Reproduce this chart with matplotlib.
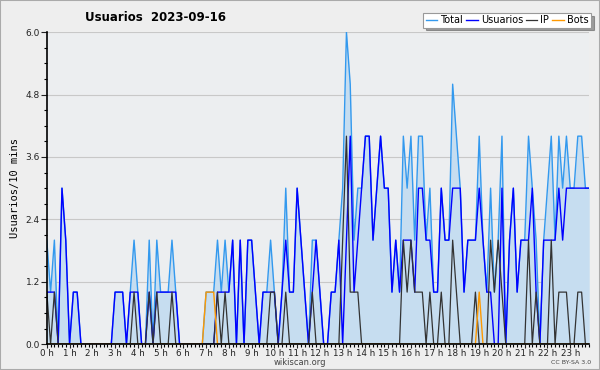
import numpy as np
import matplotlib

matplotlib.use("Agg")
import matplotlib.pyplot as plt
from matplotlib.patches import Rectangle
from matplotlib.ticker import MultipleLocator

# 10-minute slots, 144 per day
usuarios = [
    1, 1, 1, 0, 3, 2,  0, 1, 1, 0, 0, 0,  0, 0, 0, 0, 0, 0,
    1, 1, 1, 0, 1, 1,  1, 0, 0, 1, 0, 1,  1, 1, 1, 1, 1, 0,
    0, 0, 0, 0, 0, 0,  0, 0, 0, 1, 1, 1,  1, 2, 0, 2, 0, 2,
    2, 1, 0, 1, 1, 1,  1, 0, 1, 2, 1, 1,  3, 2, 1, 0, 1, 2,
    1, 0, 0, 1, 1, 2,  0, 2, 4, 1, 2, 3,  4, 4, 2, 3, 4, 3,
    3, 1, 2, 1, 2, 2,  2, 1, 3, 3, 2, 2,  1, 1, 3, 2, 2, 3,
    3, 3, 1, 2, 2, 2,  3, 2, 1, 1, 0, 0,  3, 0, 2, 3, 1, 2,
    2, 2, 3, 1, 0, 2,  2, 2, 2, 3, 2, 3,  3, 3, 3, 3, 3, 3,
]
ip = [
    1, 0, 1, 0, 0, 0,  0, 0, 0, 0, 0, 0,  0, 0, 0, 0, 0, 0,
    0, 0, 0, 0, 0, 1,  0, 0, 0, 1, 0, 1,  0, 0, 0, 1, 0, 0,
    0, 0, 0, 0, 0, 0,  0, 0, 0, 1, 0, 1,  0, 0, 0, 0, 0, 0,
    0, 0, 0, 0, 0, 1,  1, 0, 0, 1, 0, 0,  0, 0, 0, 0, 1, 0,
    0, 0, 0, 0, 0, 0,  2, 4, 1, 1, 1, 0,  0, 0, 0, 0, 0, 0,
    0, 0, 0, 0, 2, 1,  2, 1, 1, 1, 0, 1,  0, 0, 1, 0, 0, 2,
    1, 0, 0, 0, 0, 1,  0, 0, 0, 2, 1, 2,  1, 0, 0, 0, 0, 0,
    0, 2, 0, 1, 0, 0,  0, 2, 0, 1, 1, 1,  0, 0, 1, 1, 0, 0,
]
bots = [0] * 144
for k in (42, 43, 44, 114):
    bots[k] = 1
total = [
    2, 1, 2, 0, 3, 2,  0, 1, 1, 0, 0, 0,  0, 0, 0, 0, 0, 0,
    1, 1, 1, 0, 1, 2,  1, 0, 0, 2, 0, 2,  1, 1, 1, 2, 1, 0,
    0, 0, 0, 0, 0, 0,  1, 1, 1, 2, 1, 2,  1, 2, 0, 2, 0, 2,
    2, 1, 0, 1, 1, 2,  1, 0, 1, 3, 1, 1,  3, 2, 1, 0, 2, 2,
    1, 0, 0, 1, 1, 2,  3, 6, 5, 2, 3, 3,  4, 4, 2, 3, 4, 3,
    3, 1, 2, 1, 4, 3,  4, 2, 4, 4, 2, 3,  1, 1, 3, 2, 2, 5,
    4, 3, 1, 2, 2, 2,  4, 2, 1, 3, 1, 2,  4, 0, 2, 3, 1, 2,
    2, 4, 3, 2, 0, 2,  3, 4, 2, 4, 3, 4,  3, 3, 4, 4, 3, 3,
]
hours = [f"{h} h" for h in range(24)]


def main():
    x = np.arange(len(total))

    fig = plt.figure(figsize=(6.0, 3.7), dpi=100, facecolor="#eeeeee")
    fig.patches.append(
        Rectangle((0, 0), 1, 1, transform=fig.transFigure, fill=False,
                  edgecolor="#aaaaaa", linewidth=1.5)
    )
    ax = fig.add_axes([0.078, 0.07, 0.904, 0.843])
    ax.set_facecolor("#eceef0")

    ax.fill_between(x, total, color="#c6ddf0", linewidth=0)
    ax.plot(x, total, color="#3399ee", linewidth=1, label="Total")
    ax.plot(x, usuarios, color="#0000ff", linewidth=1, label="Usuarios")
    ax.plot(x, ip, color="#333333", linewidth=0.9, label="IP")
    ax.plot(x, bots, color="#ff9900", linewidth=1, label="Bots")

    ax.set_xlim(0, len(total) - 1)
    ax.set_ylim(0, 6)
    ax.set_xticks(np.arange(0, 144, 6))
    ax.set_xticklabels(hours)
    ax.xaxis.set_minor_locator(MultipleLocator(1))
    ax.set_yticks(np.arange(0, 6.01, 1.2))
    ax.set_yticklabels([f"{v:.1f}" for v in np.arange(0, 6.01, 1.2)])
    ax.yaxis.set_minor_locator(MultipleLocator(0.3))
    ax.tick_params(axis="y", which="major", labelsize=6.5, length=4,
                   width=0.8, pad=1, colors="#222222")
    ax.tick_params(axis="x", which="major", labelsize=6.3, length=3,
                   width=0.8, pad=0.5, colors="#222222")
    ax.tick_params(axis="both", which="minor", length=2.5, width=0.8)
    ax.grid(axis="y", color="#c8c8c8", linewidth=0.8)
    ax.set_axisbelow(True)
    for side in ("top", "right"):
        ax.spines[side].set_visible(False)
    for side in ("left", "bottom"):
        ax.spines[side].set_linewidth(1.2)

    ax.set_ylabel("Usuarios/10 mins", family="DejaVu Sans Mono", fontsize=7.5,
                  labelpad=4)
    fig.text(0.142, 0.953, "Usuarios  2023-09-16", fontsize=8.5,
             fontweight="bold", va="center")

    leg = ax.legend(loc="upper right", bbox_to_anchor=(1.003, 1.062), ncol=4,
                    fontsize=7, frameon=True, fancybox=False, shadow=True,
                    handlelength=1.2, handletextpad=0.3, columnspacing=0.3,
                    borderpad=0.25, borderaxespad=0)
    leg.get_frame().set_edgecolor("#999999")
    leg.get_frame().set_linewidth(0.8)

    fig.text(0.5, 0.02, "wikiscan.org", fontsize=6, ha="center",
             va="center", color="#444444")
    fig.text(0.985, 0.02, "CC BY-SA 3.0", fontsize=4.5, ha="right",
             va="center", color="#444444")

    fig.savefig("out.png", dpi=100, facecolor=fig.get_facecolor())


if __name__ == "__main__":
    main()
